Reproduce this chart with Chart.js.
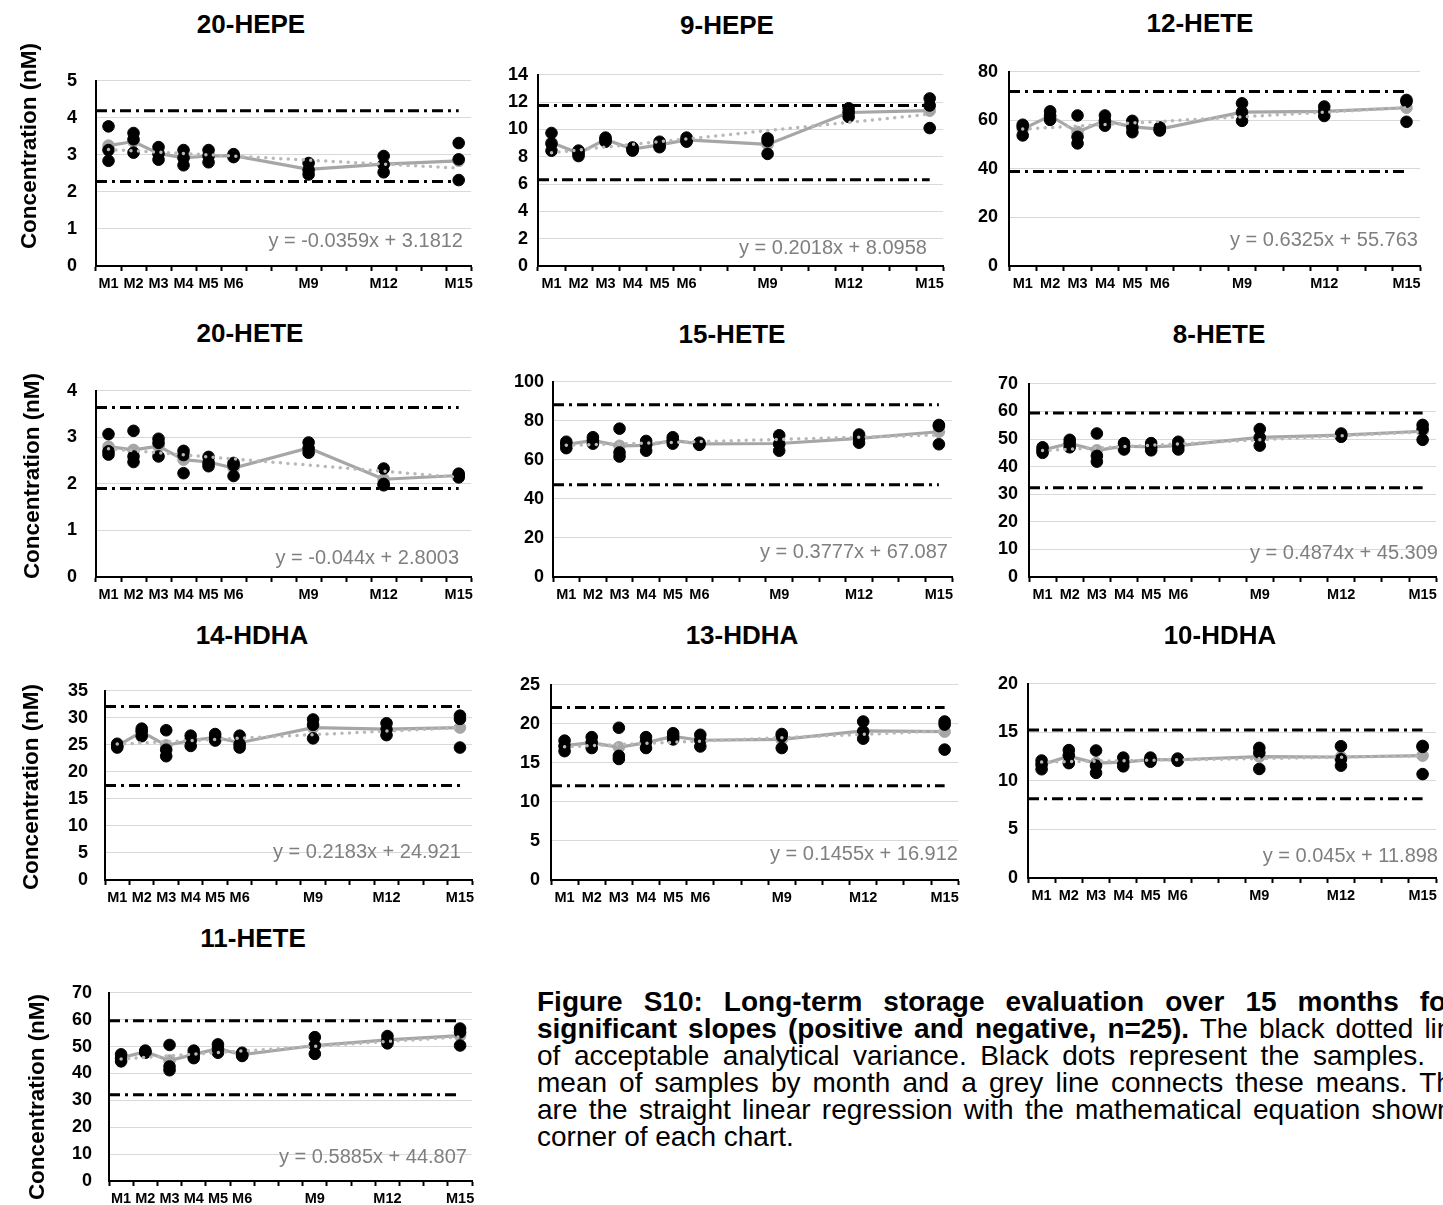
<!DOCTYPE html>
<html>
<head>
<meta charset="utf-8">
<script src="https://cdn.jsdelivr.net/npm/chart.js@4.4.1/dist/chart.umd.min.js"></script>
<style>
  html, body { margin: 0; padding: 0; background: #fff; }
  body { width: 1443px; height: 1205px; position: relative; overflow: hidden; font-family: "Liberation Sans", Arial, sans-serif; color: #000; }
  .ptitle { position: absolute; width: 300px; text-align: center; font-weight: bold; font-size: 26px; line-height: 26px; white-space: nowrap; }
  .ytitle { position: absolute; width: 260px; height: 22px; text-align: center; font-weight: bold; font-size: 22.5px; line-height: 22px; white-space: nowrap; transform: rotate(-90deg); }
  .eq { position: absolute; width: 320px; text-align: right; font-size: 20px; line-height: 20px; color: #7f7f7f; white-space: nowrap; }
  .cap { position: absolute; left: 537px; font-size: 28px; line-height: 28px; white-space: nowrap; }
  canvas { position: absolute; }
</style>
</head>
<body>
<script>
// ---------- DATA ----------
const months = [1, 2, 3, 4, 5, 6, 9, 12, 15];
const axisLabels = ['M1', 'M2', 'M3', 'M4', 'M5', 'M6', '', '', 'M9', '', '', 'M12', '', '', 'M15'];
const titles = ['20-HEPE', '9-HEPE', '12-HETE', '20-HETE', '15-HETE', '8-HETE', '14-HDHA', '13-HDHA', '10-HDHA', '11-HETE'];
const yMax = [5, 14, 80, 4, 100, 70, 35, 25, 20, 70];
const yStep = [1, 2, 20, 1, 20, 10, 5, 5, 5, 10];
const upperLimit = [4.19, 11.75, 71.9, 3.64, 88.2, 59.4, 32.1, 22.1, 15.23, 59.6];
const lowerLimit = [2.28, 6.31, 38.9, 1.90, 47.3, 32.3, 17.5, 12.07, 8.17, 32.1];
const trendAtM1 = [3.145, 8.298, 56.396, 2.756, 67.465, 45.796, 25.139, 17.058, 11.943, 45.396];
const trendAtM15 = [2.643, 11.123, 65.251, 2.140, 72.753, 52.620, 28.196, 19.095, 12.573, 53.635];
const equations = ['y = -0.0359x + 3.1812', 'y = 0.2018x + 8.0958', 'y = 0.6325x + 55.763',
  'y = -0.044x + 2.8003', 'y = 0.3777x + 67.087', 'y = 0.4874x + 45.309',
  'y = 0.2183x + 24.921', 'y = 0.1455x + 16.912', 'y = 0.045x + 11.898', 'y = 0.5885x + 44.807'];

// samples per month (M1..M6, M9, M12, M15)
const samples20HEPE = [[3.77, 3.13, 2.84], [3.59, 3.42, 3.06], [3.21, 3.03, 2.87], [3.13, 2.92, 2.72], [3.13, 2.97, 2.80], [3.02, 2.97, 2.94], [2.78, 2.59, 2.47], [2.97, 2.74, 2.53], [3.32, 2.88, 2.32]];
const means20HEPE = [3.25, 3.36, 3.04, 2.92, 2.97, 2.98, 2.61, 2.75, 2.84];
const samples9HEPE = [[9.74, 8.96, 8.44], [8.45, 8.25, 8.05], [9.40, 9.27, 9.10], [8.68, 8.55, 8.45], [9.10, 8.80, 8.70], [9.40, 9.20, 9.10], [9.35, 9.15, 8.21], [11.55, 11.25, 10.92], [12.27, 11.75, 10.10]];
const means9HEPE = [9.05, 8.25, 9.26, 8.56, 8.87, 9.23, 8.90, 11.24, 11.37];
const samples12HETE = [[58.2, 57.3, 53.8], [63.7, 61.8, 60.2], [62.0, 53.2, 50.5], [62.0, 59.8, 57.8], [59.8, 57.1, 55.1], [57.1, 56.2, 55.8], [67.0, 63.3, 59.8], [65.7, 63.7, 61.8], [68.4, 67.7, 59.4]];
const means12HETE = [56.4, 61.9, 55.2, 59.9, 57.3, 56.4, 63.4, 63.7, 65.2];
const samples20HETE = [[3.07, 2.70, 2.63], [3.14, 2.59, 2.47], [2.97, 2.88, 2.59], [2.71, 2.62, 2.23], [2.58, 2.45, 2.38], [2.45, 2.40, 2.17], [2.89, 2.76, 2.67], [2.33, 2.00, 1.97], [2.22, 2.18, 2.14]];
const means20HETE = [2.80, 2.73, 2.81, 2.52, 2.47, 2.34, 2.77, 2.10, 2.18];
const samples15HETE = [[69.3, 68.0, 66.0], [71.6, 70.0, 68.3], [76.0, 63.8, 61.7], [69.7, 67.7, 64.7], [71.6, 70.0, 68.3], [68.8, 68.0, 67.7], [72.6, 68.0, 64.7], [73.0, 71.3, 68.8], [77.9, 77.3, 68.0]];
const means15HETE = [67.8, 70.0, 67.2, 67.4, 70.0, 68.2, 68.4, 71.0, 74.4];
const samples8HETE = [[47.0, 45.9, 45.0], [49.7, 48.5, 47.0], [52.0, 43.9, 41.8], [48.5, 47.4, 46.2], [48.5, 47.0, 45.9], [49.0, 47.6, 46.2], [53.6, 50.5, 47.6], [52.0, 51.4, 50.8], [55.1, 53.6, 49.7]];
const means8HETE = [46.0, 48.4, 45.9, 47.4, 47.1, 47.6, 50.6, 51.4, 52.8];
const samples14HDHA = [[25.2, 24.8, 24.5], [28.0, 27.5, 26.6], [27.7, 24.1, 22.9], [26.7, 25.8, 24.8], [27.0, 26.4, 25.8], [26.7, 25.1, 24.5], [29.7, 28.7, 26.2], [29.0, 27.8, 26.8], [30.4, 29.8, 24.5]];
const means14HDHA = [24.8, 27.4, 24.9, 25.8, 26.4, 25.4, 28.2, 27.9, 28.2];
const samples13HDHA = [[17.85, 17.15, 16.5], [18.3, 17.6, 16.9], [19.5, 15.9, 15.5], [18.3, 17.7, 16.9], [18.8, 18.4, 18.0], [18.6, 17.9, 17.1], [18.7, 18.4, 16.9], [20.3, 19.0, 18.1], [20.3, 19.9, 16.7]];
const means13HDHA = [17.2, 17.6, 17.0, 17.6, 18.4, 17.9, 18.0, 19.1, 19.0];
const samples10HDHA = [[12.1, 11.7, 11.2], [13.17, 12.63, 11.83], [13.13, 11.57, 10.83], [12.4, 11.9, 11.5], [12.4, 12.2, 11.97], [12.3, 12.17, 12.07], [13.4, 12.9, 11.23], [13.57, 12.23, 11.57], [13.6, 13.5, 10.7]];
const means10HDHA = [11.67, 12.54, 11.84, 11.93, 12.2, 12.18, 12.51, 12.46, 12.6];
const samples11HETE = [[47.1, 45.7, 44.5], [48.5, 48.0, 47.7], [50.6, 42.6, 41.2], [48.5, 47.1, 45.7], [50.8, 49.2, 47.7], [47.7, 46.8, 46.5], [53.5, 50.4, 47.3], [53.9, 52.3, 51.2], [56.7, 55.3, 50.4]];
const means11HETE = [45.8, 48.1, 44.8, 47.1, 49.2, 47.0, 50.4, 52.5, 54.1];

const samplesList = [samples20HEPE, samples9HEPE, samples12HETE, samples20HETE, samples15HETE, samples8HETE, samples14HDHA, samples13HDHA, samples10HDHA, samples11HETE];
const meansList = [means20HEPE, means9HEPE, means12HETE, means20HETE, means15HETE, means8HETE, means14HDHA, means13HDHA, means10HDHA, means11HETE];

// ---------- LAYOUT (pixels) ----------
// [y-axis x, plot right, plot top, plot bottom]
const plotBoxes = [[96, 472, 65, 266], [538, 944, 68, 266], [1009, 1421, 64, 266],
  [96, 472, 375, 577], [553, 953, 376, 577], [1029, 1439, 376, 577],
  [105, 473, 677, 880], [551, 959, 677, 880], [1028, 1438, 677, 878],
  [109, 473, 979, 1181]];
const tickGap = [19, 10, 11, 19, 9, 11, 17, 11, 10, 17];
const titlePos = [[251, 23.5], [727, 25], [1200, 22.5], [250, 332.5], [732, 334], [1219, 334], [252, 635], [742, 635], [1220, 635], [253, 937.5]];
const yTitlePos = [[29, 146], null, null, [32, 476], null, null, [30.5, 786.5], null, null, [37, 1096.5]];
const eqPos = [[463, 240], [927, 247], [1418, 239], [459, 557], [948, 551], [1438, 552], [461, 851], [958, 853], [1438, 855], [467, 1156]];

function addDiv(cls, text, style) {
  const d = document.createElement('div');
  d.className = cls;
  d.textContent = text;
  Object.assign(d.style, style);
  document.body.appendChild(d);
  return d;
}

titles.forEach((t, i) => {
  const [ax, pr, pt, pb] = plotBoxes[i];
  const yw = 75, xh = 40, padTop = 14;
  const padRight = Math.min(6, 1443 - pr);
  const left = ax - yw, top = pt - padTop;
  const W = pr + padRight - left, H = pb + xh - top;
  const c = document.createElement('canvas');
  c.width = W; c.height = H;
  c.style.left = left + 'px'; c.style.top = top + 'px';
  c.style.width = W + 'px'; c.style.height = H + 'px';
  document.body.appendChild(c);

  const pts = [];
  months.forEach((m, k) => samplesList[i][k].forEach(v => pts.push({ x: m, y: v })));
  const meanPts = months.map((m, k) => ({ x: m, y: meansList[i][k] }));

  new Chart(c, {
    type: 'line',
    data: {
      datasets: [
        { data: [{ x: 1, y: trendAtM1[i] }, { x: 15, y: trendAtM15[i] }], xAxisID: 'x2', yAxisID: 'y',
          borderColor: '#b8b8b8', borderWidth: 3.5, borderDash: [0, 7.5], borderCapStyle: 'round', pointRadius: 0, order: 0 },
        { data: [{ x: 0.5, y: upperLimit[i] }, { x: 15, y: upperLimit[i] }], xAxisID: 'x2', yAxisID: 'y',
          borderColor: '#000', borderWidth: 3, borderDash: [11, 5, 3, 5], pointRadius: 0, order: 1 },
        { data: [{ x: 0.5, y: lowerLimit[i] }, { x: 15, y: lowerLimit[i] }], xAxisID: 'x2', yAxisID: 'y',
          borderColor: '#000', borderWidth: 3, borderDash: [11, 5, 3, 5], pointRadius: 0, order: 1 },
        { data: pts, xAxisID: 'x2', yAxisID: 'y', showLine: false,
          pointRadius: 5.8, pointBorderWidth: 1, pointBackgroundColor: '#000', pointBorderColor: '#000', order: 2 },
        { data: meanPts, xAxisID: 'x2', yAxisID: 'y', showLine: true, borderColor: '#a6a6a6', borderWidth: 3.2,
          pointRadius: 5.8, pointBorderWidth: 1, pointBackgroundColor: '#a6a6a6', pointBorderColor: '#a6a6a6', order: 3 }
      ]
    },
    options: {
      responsive: false,
      animation: false,
      events: [],
      layout: { padding: { left: 0, top: padTop, right: padRight, bottom: 0 } },
      plugins: { legend: { display: false }, tooltip: { enabled: false }, title: { display: false } },
      scales: {
        x: {
          type: 'category', labels: axisLabels, position: 'bottom', offset: true,
          grid: { display: true, drawOnChartArea: false, drawTicks: true, tickLength: 5, tickColor: '#000', tickWidth: 2, offset: true },
          border: { display: true, color: '#000', width: 2 },
          ticks: { autoSkip: false, maxRotation: 0, minRotation: 0, padding: 4, color: '#000',
            font: { family: '"Liberation Sans", Arial, sans-serif', size: 14.5, weight: 'bold' } },
          afterFit: s => { s.height = xh; }
        },
        x2: { type: 'linear', display: false, min: 0.5, max: 15.5, position: 'bottom' },
        y: {
          type: 'linear', min: 0, max: yMax[i], position: 'left',
          grid: { color: '#d9d9d9', lineWidth: 1, drawTicks: false },
          border: { display: true, color: '#000', width: 2 },
          ticks: { stepSize: yStep[i], padding: tickGap[i], color: '#000',
            font: { family: '"Liberation Sans", Arial, sans-serif', size: 18, weight: 'bold' } },
          afterFit: s => { s.width = yw; }
        }
      }
    }
  });

  const [tx, ty] = titlePos[i];
  addDiv('ptitle', t, { left: (tx - 150) + 'px', top: (ty - 13) + 'px' });
  if (yTitlePos[i]) {
    const [yx, yy] = yTitlePos[i];
    addDiv('ytitle', 'Concentration (nM)', { left: (yx - 130) + 'px', top: (yy - 11) + 'px' });
  }
  const [ex, ey] = eqPos[i];
  addDiv('eq', equations[i], { left: (ex - 320) + 'px', top: (ey - 10) + 'px' });
});

// ---------- CAPTION ----------
const capTops = [1002, 1029, 1056, 1083, 1110, 1137];
addDiv('cap', 'Figure S10: Long-term storage evaluation over 15 months for', { top: (capTops[0] - 14) + 'px', fontWeight: 'bold', wordSpacing: '13.3px' });
const l2 = document.createElement('div');
l2.className = 'cap';
Object.assign(l2.style, { top: (capTops[1] - 14) + 'px', wordSpacing: '3.3px' });
const b2 = document.createElement('b');
b2.textContent = 'significant slopes (positive and negative, n=25).';
l2.appendChild(b2);
l2.appendChild(document.createTextNode(' The black dotted lines'));
document.body.appendChild(l2);
addDiv('cap', 'of acceptable analytical variance. Black dots represent the samples.', { top: (capTops[2] - 14) + 'px', wordSpacing: '5.75px' });
addDiv('cap', 'mean of samples by month and a grey line connects these means. The', { top: (capTops[3] - 14) + 'px', wordSpacing: '4.3px' });
addDiv('cap', 'are the straight linear regression with the mathematical equation shown', { top: (capTops[4] - 14) + 'px', wordSpacing: '3.5px' });
addDiv('cap', 'corner of each chart.', { top: (capTops[5] - 14) + 'px' });
</script>
</body>
</html>
